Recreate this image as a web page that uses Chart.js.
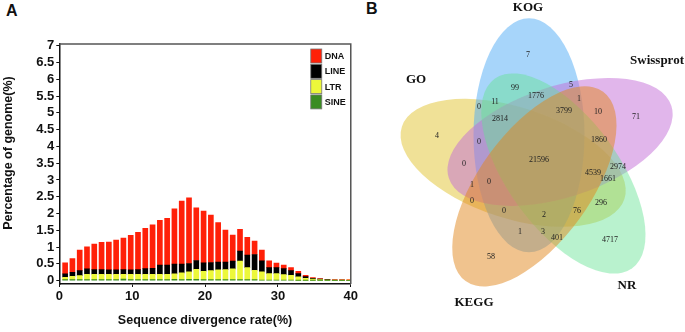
<!DOCTYPE html>
<html lang="en">
<head>
    <meta charset="UTF-8">
    <title>Repeat divergence and annotation Venn</title>
    <script src="https://cdn.jsdelivr.net/npm/chart.js"></script>
    <style>
        body {
            margin: 0;
            background: #fff;
            width: 685px;
            height: 332px;
            position: relative;
            overflow: hidden;
        }
        canvas {
            position: absolute;
            top: 0;
        }
        #barChart { left: 0; }
        #vennChart { left: 360px; }
        .panel {
            position: absolute;
            font-family: 'Liberation Sans', Arial, sans-serif;
            font-weight: bold;
            font-size: 16px;
            color: #111;
        }
    </style>
</head>
<body>
    <div class="panel" style="left:6px; top:2px;">A</div>
    <div class="panel" style="left:366px; top:0px;">B</div>
    <canvas id="barChart" width="360" height="332"></canvas>
    <canvas id="vennChart" width="325" height="332"></canvas>

    <script>
        // --- panel A: repeat landscape ---
        const rates = [1, 2, 3, 4, 5, 6, 7, 8, 9, 10, 11, 12, 13, 14, 15, 16, 17, 18, 19, 20,
                       21, 22, 23, 24, 25, 26, 27, 28, 29, 30, 31, 32, 33, 34, 35, 36, 37, 38, 39, 40];
        const dna = [0.33, 0.41, 0.61, 0.66, 0.76, 0.81, 0.83, 0.89, 0.94, 1.03,
                     1.11, 1.20, 1.29, 1.34, 1.40, 1.65, 1.88, 1.96, 1.57, 1.54,
                     1.41, 1.18, 0.96, 0.78, 0.65, 0.53, 0.40, 0.32, 0.20, 0.13,
                     0.10, 0.09, 0.07, 0.04, 0.02, 0.01, 0.01, 0.01, 0.01, 0.02];
        const line = [0.10, 0.12, 0.15, 0.16, 0.14, 0.14, 0.13, 0.13, 0.14, 0.13,
                      0.14, 0.17, 0.18, 0.27, 0.27, 0.29, 0.26, 0.25, 0.26, 0.25,
                      0.24, 0.23, 0.22, 0.23, 0.30, 0.37, 0.47, 0.33, 0.18, 0.18,
                      0.18, 0.14, 0.10, 0.05, 0.02, 0.02, 0.01, 0.01, 0.01, 0.005];
        const ltr = [0.07, 0.10, 0.12, 0.16, 0.16, 0.16, 0.16, 0.16, 0.14, 0.16,
                     0.16, 0.16, 0.16, 0.16, 0.16, 0.16, 0.20, 0.22, 0.30, 0.25,
                     0.27, 0.29, 0.30, 0.32, 0.55, 0.36, 0.28, 0.24, 0.19, 0.19,
                     0.16, 0.14, 0.10, 0.06, 0.04, 0.02, 0.015, 0.01, 0.01, 0.005];
        const sine = [0.03, 0.03, 0.03, 0.03, 0.03, 0.03, 0.03, 0.03, 0.05, 0.03,
                      0.03, 0.03, 0.03, 0.03, 0.03, 0.04, 0.03, 0.04, 0.04, 0.03,
                      0.03, 0.03, 0.03, 0.03, 0.03, 0.03, 0.03, 0.02, 0.02, 0.02,
                      0.02, 0.02, 0.01, 0.01, 0.01, 0.01, 0.005, 0, 0, 0];
        const xTicks = [0, 10, 20, 30, 40];
        const yTicks = [0, 0.5, 1, 1.5, 2, 2.5, 3, 3.5, 4, 4.5, 5, 5.5, 6, 6.5, 7];

        // --- panel B: annotation Venn ---
        const setNames = ['GO', 'KOG', 'Swissprot', 'NR', 'KEGG'];
        const vennCounts = [4, 7, 71, 4717, 58,
                            99, 5, 1776, 1, 0, 11, 3799, 10, 2814, 0, 1860,
                            21596, 0, 2974, 4539, 1661, 1, 0, 0, 296, 0, 2, 76, 1, 3, 401];

        // layout of the Venn (image pixel units)
        const vennCountXY = [[437, 136], [528, 55], [636, 117], [610, 240], [491, 257],
                             [515, 88], [571, 85], [536, 96], [579, 99], [479, 107], [495, 102], [564, 111], [598, 112], [500, 119], [479, 142], [599, 140],
                             [539, 160], [464, 164], [618, 167], [593, 173], [608, 179], [472, 185], [489, 182], [472, 201], [601, 203], [504, 211], [544, 215], [577, 211], [520, 232], [543, 232], [557, 238]];
        const setNameXY = [[416, 80], [528, 8], [657, 61], [627, 286], [474, 303]];
        const setAxis = [198, -90, -18, 54, 126];   // long-axis direction, degrees
        const setFill = ['rgba(226,196,48,0.5)', 'rgba(80,172,246,0.5)', 'rgba(196,110,216,0.5)',
                         'rgba(100,226,146,0.45)', 'rgba(226,136,30,0.5)'];
        const vennCentre = [540, 160];

        const barColors = { DNA: '#ff2008', LINE: '#000000', LTR: '#ecf83a', SINE: '#3a8c22' };

        function series(values) {
            return rates.map((r, i) => ({ x: r - 0.2, y: values[i] }));
        }

        const frameAndLegend = {
            id: 'frameAndLegend',
            afterDraw(chart) {
                const ctx = chart.ctx;
                const a = chart.chartArea;
                ctx.save();
                ctx.strokeStyle = '#555';
                ctx.lineWidth = 1.5;
                ctx.beginPath();
                ctx.moveTo(a.left, a.top);
                ctx.lineTo(a.right, a.top);
                ctx.lineTo(a.right, a.bottom);
                ctx.stroke();

                // y title
                ctx.save();
                ctx.translate(9, 153);
                ctx.rotate(-Math.PI / 2);
                ctx.font = 'bold 12.5px "Liberation Sans", Arial, sans-serif';
                ctx.fillStyle = '#111';
                ctx.textAlign = 'center';
                ctx.textBaseline = 'middle';
                ctx.fillText('Percentage of genome(%)', 0, 0);
                ctx.restore();

                // legend, top to bottom: DNA, LINE, LTR, SINE
                const sets = chart.data.datasets.slice().reverse();
                ctx.font = 'bold 9px "Liberation Sans", Arial, sans-serif';
                ctx.textBaseline = 'middle';
                sets.forEach((ds, i) => {
                    const y = a.top + 5 + i * 15.3;
                    ctx.fillStyle = ds.backgroundColor;
                    ctx.fillRect(a.right - 40, y, 11, 14);
                    ctx.strokeStyle = '#777';
                    ctx.lineWidth = 0.8;
                    ctx.strokeRect(a.right - 40, y, 11, 14);
                    ctx.fillStyle = '#111';
                    ctx.fillText(ds.label, a.right - 26, y + 7.5);
                });
                ctx.restore();
            }
        };

        const tickFont = { family: 'Liberation Sans', size: 13, weight: 'bold' };

        new Chart(document.getElementById('barChart'), {
            type: 'bar',
            data: {
                datasets: [
                    { label: 'SINE', data: series(sine), backgroundColor: barColors.SINE },
                    { label: 'LTR', data: series(ltr), backgroundColor: barColors.LTR },
                    { label: 'LINE', data: series(line), backgroundColor: barColors.LINE },
                    { label: 'DNA', data: series(dna), backgroundColor: barColors.DNA }
                ]
            },
            options: {
                responsive: false,
                animation: false,
                barThickness: 5,
                layout: { padding: { left: 4, right: 7, top: 44, bottom: 0 } },
                plugins: { legend: { display: false }, tooltip: { enabled: false } },
                scales: {
                    x: {
                        type: 'linear',
                        stacked: true,
                        offset: false,
                        min: 0,
                        max: 40,
                        afterBuildTicks: s => { s.ticks = xTicks.map(v => ({ value: v })); },
                        afterFit: s => { s.height = 48; },
                        ticks: { font: tickFont, color: '#111', padding: 2, autoSkip: false, maxRotation: 0, callback: v => String(v) },
                        grid: { drawOnChartArea: false, tickLength: 3, color: '#111', offset: false },
                        border: { color: '#111', width: 1.5 },
                        title: {
                            display: true,
                            text: 'Sequence divergence rate(%)',
                            font: { family: 'Liberation Sans', size: 12.5, weight: 'bold' },
                            color: '#111',
                            padding: { top: 4 }
                        }
                    },
                    y: {
                        stacked: true,
                        min: -0.1,
                        max: 7.05,
                        afterBuildTicks: s => { s.ticks = yTicks.map(v => ({ value: v })); },
                        afterFit: s => { s.width = 55.3; },
                        ticks: { font: tickFont, color: '#111', padding: 2, autoSkip: false, callback: v => String(v) },
                        grid: { drawOnChartArea: false, tickLength: 3, color: '#111' },
                        border: { color: '#111', width: 1.5 }
                    }
                }
            },
            plugins: [frameAndLegend]
        });

        const vennPlugin = {
            id: 'vennPlugin',
            beforeDatasetsDraw(chart) {
                const ctx = chart.ctx;
                const xs = chart.scales.x, ys = chart.scales.y;
                const d = 27, A = 117, B = 55.5;
                ctx.save();
                setAxis.forEach((ang, i) => {
                    const phi = (ang - 24) * Math.PI / 180;
                    const cx = xs.getPixelForValue(vennCentre[0] + d * Math.cos(phi));
                    const cy = ys.getPixelForValue(vennCentre[1] + d * Math.sin(phi));
                    const rx = xs.getPixelForValue(vennCentre[0] + A) - xs.getPixelForValue(vennCentre[0]);
                    const ry = ys.getPixelForValue(vennCentre[1] + B) - ys.getPixelForValue(vennCentre[1]);
                    ctx.beginPath();
                    ctx.ellipse(cx, cy, rx, Math.abs(ry), ang * Math.PI / 180, 0, Math.PI * 2);
                    ctx.fillStyle = setFill[i];
                    ctx.fill();
                });
                ctx.restore();
            },
            afterDatasetsDraw(chart) {
                const ctx = chart.ctx;
                ctx.save();
                ctx.textAlign = 'center';
                ctx.textBaseline = 'middle';
                ctx.fillStyle = '#222';
                ctx.font = '8px "Liberation Serif", serif';
                chart.getDatasetMeta(0).data.forEach((pt, i) => {
                    ctx.fillText(String(vennCounts[i]), pt.x, pt.y);
                });
                ctx.font = 'bold 13px "Liberation Serif", serif';
                ctx.fillStyle = '#111';
                chart.getDatasetMeta(1).data.forEach((pt, i) => {
                    ctx.fillText(setNames[i], pt.x, pt.y);
                });
                ctx.restore();
            }
        };

        new Chart(document.getElementById('vennChart'), {
            type: 'scatter',
            data: {
                datasets: [
                    { data: vennCountXY.map(p => ({ x: p[0], y: p[1] })), pointRadius: 0 },
                    { data: setNameXY.map(p => ({ x: p[0], y: p[1] })), pointRadius: 0 }
                ]
            },
            options: {
                responsive: false,
                animation: false,
                layout: { padding: 0 },
                plugins: { legend: { display: false }, tooltip: { enabled: false } },
                scales: {
                    x: { type: 'linear', min: 360, max: 685, display: false },
                    y: { type: 'linear', min: 0, max: 332, reverse: true, display: false }
                }
            },
            plugins: [vennPlugin]
        });
    </script>
</body>
</html>
